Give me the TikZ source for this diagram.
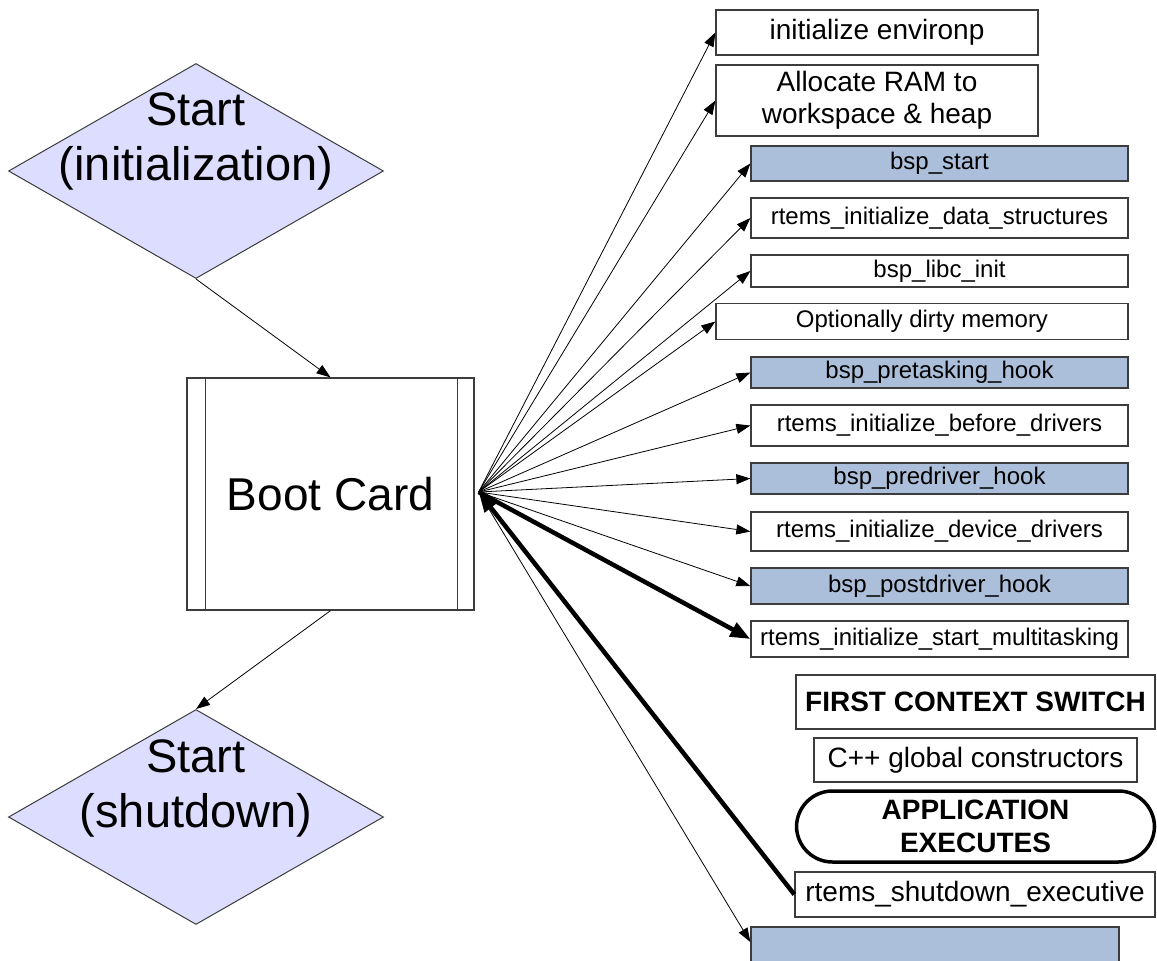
\documentclass[tikz,border=0pt]{standalone}
\usepackage{fontspec}
\setmainfont{Liberation Sans}
\usetikzlibrary{shapes.geometric,arrows.meta}
\definecolor{startfill}{RGB}{221,221,255}
\definecolor{hookfill}{RGB}{172,191,218}
\definecolor{edgegray}{RGB}{60,60,60}
\begin{document}
\begin{tikzpicture}[x=1pt, y=-1pt,
    startshape/.style={diamond, draw=edgegray, fill=startfill, line width=1pt, inner sep=0pt, minimum width=375pt, minimum height=215pt},
    bigtext/.style={font=\fontsize{47}{55}\selectfont, align=center},
    stepbox/.style={draw=edgegray, line width=1.3pt, fill=white, inner sep=0pt, minimum width=377pt, font=\fontsize{24}{28}\selectfont},
    hookbox/.style={stepbox, fill=hookfill},
    widebox/.style={draw=edgegray, line width=1.3pt, fill=white, inner sep=0pt, font=\fontsize{28}{32}\selectfont, align=center},
    thin/.style={-{Triangle[length=14pt,width=10pt]}, line width=0.8pt},
    heavy/.style={-{Triangle[length=20pt,width=15pt]}, line width=4.5pt}]
    \useasboundingbox (0,0) rectangle (1157,961);
    % the two start diamonds
    \node[startshape] (init) at (196,171) {};
    \node[bigtext] (initlabel) at (196,141) {Start\\(initialization)};
    \node[startshape] (shut) at (196,817) {};
    \node[bigtext] (shutlabel) at (196,788) {Start\\(shutdown)};
    % the boot card box
    \node[draw=edgegray, line width=1.3pt, minimum width=287pt, minimum height=232pt, inner sep=0pt,
          font=\fontsize{46}{52}\selectfont] (bc) at (330.5,494) {Boot Card};
    \draw[edgegray, line width=1.3pt] ([xshift=19pt]bc.north west) -- ([xshift=19pt]bc.south west);
    \draw[edgegray, line width=1.3pt] ([xshift=-17pt]bc.north east) -- ([xshift=-17pt]bc.south east);
    \coordinate (hub) at ([xshift=4pt,yshift=2pt]bc.east);
    % the steps on the right
    \node[widebox, minimum width=322pt, minimum height=45pt] (env) at (877,32.5) {initialize environp};
    \node[widebox, minimum width=322pt, minimum height=71pt] (ram) at (877,100.5) {Allocate RAM to\\workspace \& heap};
    \node[hookbox, minimum height=35pt] (bspstart) at (939.5,163.5) {bsp\_start};
    \node[stepbox, minimum height=40pt] (data) at (939.5,218) {rtems\_initialize\_data\_structures};
    \node[stepbox, minimum height=32pt] (libc) at (939.5,271) {bsp\_libc\_init};
    \node[stepbox, minimum width=412pt, minimum height=36pt] (dirty) at (922,321.5) {Optionally dirty memory};
    \node[hookbox, minimum height=31pt] (pretask) at (939.5,372.5) {bsp\_pretasking\_hook};
    \node[stepbox, minimum height=41pt] (before) at (939.5,425.5) {rtems\_initialize\_before\_drivers};
    \node[hookbox, minimum height=31pt] (predrv) at (939.5,478.5) {bsp\_predriver\_hook};
    \node[stepbox, minimum height=39pt] (devdrv) at (939.5,531.5) {rtems\_initialize\_device\_drivers};
    \node[hookbox, minimum height=36pt] (postdrv) at (939.5,586) {bsp\_postdriver\_hook};
    \node[stepbox, minimum height=36pt] (multi) at (939.5,639) {rtems\_initialize\_start\_multitasking};
    \node[widebox, minimum width=359pt, minimum height=54pt, font=\fontsize{28}{32}\selectfont\bfseries] (switch) at (975.5,702) {FIRST CONTEXT SWITCH};
    \node[widebox, minimum width=323pt, minimum height=44pt] (ctors) at (975.5,760) {C++ global constructors};
    \node[widebox, rounded corners=36pt, line width=3.5pt, draw=black, minimum width=358pt, minimum height=71pt,
          font=\fontsize{28}{33}\selectfont\bfseries] (app) at (975.5,826.5) {APPLICATION\\EXECUTES};
    \node[widebox, minimum width=360pt, minimum height=45pt] (shutexec) at (975,894.5) {rtems\_shutdown\_executive};
    \node[hookbox, minimum width=368pt, minimum height=40pt] (blank) at (935,947) {};
    % draw the arrows
    \draw[thin] (init.south) -- (bc.north);
    \draw[thin] (bc.south) -- (shut.north);
    \foreach \n in {env,ram,bspstart,data,libc,dirty,pretask,before,predrv,devdrv,postdrv}
        \draw[thin] (hub) -- (\n.west);
    \draw[thin] (hub) -- ([yshift=5pt]blank.west);
    \draw[heavy] (hub) -- (multi.west);
    \draw[heavy] (shutexec.west) -- (hub);
\end{tikzpicture}
\end{document}
